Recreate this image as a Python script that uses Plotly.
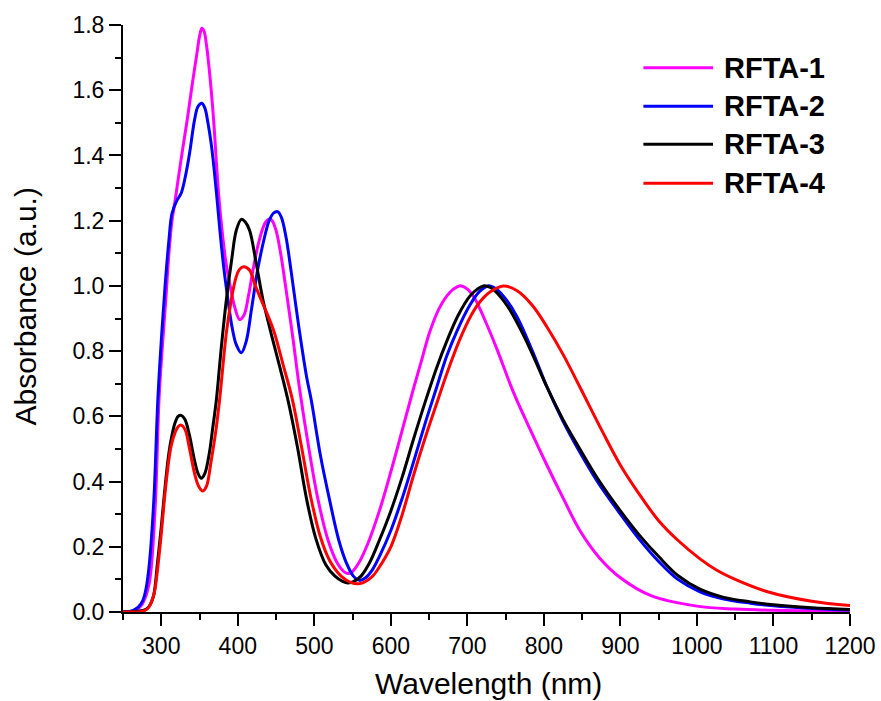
import plotly.graph_objects as go

# Absorption spectra (wavelength in nm, absorbance in a.u.)
names = ["RFTA-1", "RFTA-2", "RFTA-3", "RFTA-4"]
colors = ["#FF00FF", "#0000FF", "#000000", "#FF0000"]

wl_rfta1 = [250, 262, 268, 274, 280, 284, 287, 292.5, 297, 301, 306, 310, 314, 318, 322, 328,
            334, 340, 346.6, 350, 353, 356, 359, 362, 366, 369, 372, 375, 379, 384, 390, 396,
            402.4, 408, 414, 420, 427, 434, 438, 441.6, 445, 450, 456, 463, 472, 481, 493, 505,
            518, 530, 538, 543, 549, 558, 570, 585, 600, 614, 629, 640, 651, 664, 677, 686,
            692, 700, 710, 722, 738, 760, 782, 804, 825, 847, 873, 900, 940, 1000, 1050,
            1100, 1150, 1200]
abs_rfta1 = [0.0, 0.002, 0.006, 0.02, 0.05, 0.085, 0.138, 0.343, 0.65, 0.8, 0.96, 1.1, 1.2,
             1.26, 1.325, 1.42, 1.51, 1.61, 1.713, 1.765, 1.79, 1.78, 1.74, 1.68, 1.58, 1.49,
             1.38, 1.28, 1.18, 1.08, 1.0, 0.935, 0.897, 0.91, 0.97, 1.05, 1.13, 1.185, 1.2,
             1.205, 1.2, 1.17, 1.1, 0.99, 0.84, 0.68, 0.5, 0.343, 0.22, 0.15, 0.125, 0.118,
             0.122, 0.15, 0.21, 0.31, 0.43, 0.55, 0.68, 0.77, 0.86, 0.935, 0.98, 0.996, 1.0,
             0.99, 0.96, 0.9, 0.81, 0.675, 0.56, 0.45, 0.35, 0.25, 0.165, 0.105, 0.05,
             0.018, 0.009, 0.005, 0.004, 0.003]

wl_rfta2 = [250, 258, 264, 270, 276, 280, 284, 290.3, 295.5, 300, 305, 310, 314, 320, 326, 331,
            337, 343.5, 348, 353, 357, 361, 365, 369, 373, 377, 382, 387, 392, 398, 404.6, 411,
            418, 426, 434, 441, 447, 452.5, 457, 463, 470, 480, 490, 496, 508, 520, 532, 542,
            551, 559, 567, 576, 585, 600, 615, 629, 645, 660, 673, 688, 703, 716, 727, 738,
            750, 765, 785, 804, 825, 847, 870, 900, 925, 950, 975, 1004, 1035, 1070, 1100,
            1150, 1200]
abs_rfta2 = [0.0, 0.002, 0.006, 0.015, 0.036, 0.07, 0.138, 0.343, 0.65, 0.83, 1.0, 1.14, 1.222,
             1.26, 1.284, 1.33, 1.407, 1.509, 1.55, 1.56, 1.545, 1.5, 1.44, 1.36, 1.263, 1.16,
             1.05, 0.96, 0.88, 0.82, 0.795, 0.83, 0.93, 1.05, 1.14, 1.2, 1.224, 1.227, 1.21,
             1.15, 1.04, 0.87, 0.72, 0.65, 0.48, 0.343, 0.22, 0.15, 0.11, 0.097, 0.105, 0.13,
             0.17, 0.25, 0.35, 0.455, 0.58, 0.69, 0.785, 0.87, 0.94, 0.983, 1.0, 0.99, 0.96,
             0.905, 0.8, 0.69, 0.585, 0.49, 0.4, 0.3, 0.222, 0.155, 0.1, 0.062, 0.04, 0.027,
             0.019, 0.011, 0.006]

wl_rfta3 = [250, 270, 280, 285, 290, 295, 300, 304, 309, 313, 318, 322, 326, 331, 337, 343, 348,
            352.3, 357, 363, 367, 372, 378, 385, 392, 398, 404.6, 410, 415.5, 424, 433, 444,
            455, 466, 478, 490, 502, 515, 527, 537, 544, 551, 561, 572, 585, 600, 615, 629,
            645, 660, 673, 688, 703, 713, 721, 730, 742, 756, 772, 788, 804, 825, 847, 870,
            900, 925, 950, 975, 1004, 1035, 1070, 1100, 1150, 1200]
abs_rfta3 = [0.0, 0.002, 0.008, 0.02, 0.05, 0.15, 0.26, 0.36, 0.47, 0.53, 0.58, 0.6, 0.603,
             0.59, 0.54, 0.47, 0.425, 0.41, 0.425, 0.49, 0.56, 0.65, 0.8, 0.956, 1.08, 1.17,
             1.204, 1.195, 1.17, 1.07, 0.956, 0.85, 0.75, 0.645, 0.505, 0.345, 0.225, 0.145,
             0.11, 0.094, 0.089, 0.093, 0.11, 0.15, 0.22, 0.31, 0.415, 0.525, 0.645, 0.75,
             0.83, 0.91, 0.968, 0.99, 1.0, 0.995, 0.97, 0.925, 0.855, 0.775, 0.69, 0.59, 0.5,
             0.41, 0.31, 0.235, 0.17, 0.112, 0.07, 0.045, 0.031, 0.022, 0.013, 0.008]

wl_rfta4 = [250, 275, 282, 287, 291, 295.5, 300, 304, 309, 313, 318, 322, 326, 331, 337, 343,
            349, 354.4, 359, 365, 371, 376.2, 385, 391, 397, 402, 407.6, 415.5, 423, 431, 440,
            448, 459, 471, 483, 496, 508, 520, 535, 548, 559.4, 568, 577, 585, 600, 615, 629,
            645, 660, 673, 690, 705, 716, 730, 747, 765, 785, 804, 825, 847, 875, 900, 925,
            950, 975, 1004, 1026, 1050, 1091, 1150, 1200]
abs_rfta4 = [0.0, 0.002, 0.01, 0.03, 0.06, 0.138, 0.24, 0.343, 0.45, 0.51, 0.55, 0.568, 0.573,
             0.56, 0.5, 0.43, 0.385, 0.371, 0.385, 0.46, 0.55, 0.65, 0.855, 0.95, 1.02, 1.05,
             1.059, 1.048, 1.0, 0.955, 0.905, 0.855, 0.76, 0.655, 0.51, 0.345, 0.23, 0.158,
             0.11, 0.09, 0.087, 0.095, 0.112, 0.138, 0.2, 0.3, 0.414, 0.535, 0.64, 0.73, 0.835,
             0.91, 0.95, 0.982, 1.0, 0.985, 0.94, 0.874, 0.79, 0.69, 0.56, 0.45, 0.36, 0.28,
             0.22, 0.163, 0.128, 0.1, 0.063, 0.033, 0.02]

series = [(wl_rfta1, abs_rfta1), (wl_rfta2, abs_rfta2), (wl_rfta3, abs_rfta3), (wl_rfta4, abs_rfta4)]

x_ticks = [300, 400, 500, 600, 700, 800, 900, 1000, 1100, 1200]
y_ticks = [0.0, 0.2, 0.4, 0.6, 0.8, 1.0, 1.2, 1.4, 1.6, 1.8]

FONT = "Liberation Sans, Arial, sans-serif"

fig = go.Figure()
for name, color, (wl, ab) in zip(names, colors, series):
    fig.add_trace(go.Scatter(
        x=wl, y=ab, name=name, mode="lines",
        line=dict(color=color, width=3, shape="spline", smoothing=1.0),
        showlegend=False,
    ))

axis_common = dict(
    showline=True, linecolor="black", linewidth=2,
    ticks="outside", ticklen=12, tickwidth=2, tickcolor="black",
    showgrid=False, zeroline=False, mirror=False, automargin=False,
    tickfont=dict(family=FONT, size=23, color="black"),
)

fig.update_xaxes(
    range=[250, 1200], tickvals=x_ticks,
    minor=dict(ticks="outside", ticklen=6, tickwidth=2, tickcolor="black", dtick=50, tick0=0),
    **axis_common,
)
fig.update_yaxes(
    range=[0, 1.8], tickvals=y_ticks, tickformat=".1f",
    minor=dict(ticks="outside", ticklen=6, tickwidth=2, tickcolor="black", dtick=0.1, tick0=0),
    **axis_common,
)

annotations = [
    dict(text="Wavelength (nm)", xref="paper", yref="paper", x=0.5026, y=-0.1215,
         xanchor="center", yanchor="middle", showarrow=False,
         font=dict(family=FONT, size=30, color="black")),
    dict(text="Absorbance (a.u.)", xref="paper", yref="paper", x=-0.1343, y=0.521,
         xanchor="center", yanchor="middle", textangle=-90, showarrow=False,
         font=dict(family=FONT, size=30, color="black")),
]

# Hand-drawn legend: long line samples with bold labels
shapes = []
legend_y = [0.9272, 0.8615, 0.7967, 0.7303]
for name, color, ly in zip(names, colors, legend_y):
    shapes.append(dict(type="line", xref="paper", yref="paper",
                       x0=0.7158, x1=0.8116, y0=ly, y1=ly,
                       line=dict(color=color, width=3)))
    annotations.append(dict(text="<b>%s</b>" % name, xref="paper", yref="paper",
                            x=0.8237, y=ly, xanchor="left", yanchor="middle",
                            showarrow=False,
                            font=dict(family=FONT, size=29, color="black")))

fig.update_layout(
    width=881, height=701,
    margin=dict(l=123, r=31, t=25, b=89),
    paper_bgcolor="white", plot_bgcolor="white",
    annotations=annotations, shapes=shapes,
    showlegend=False,
)

fig.write_html("out.html")
